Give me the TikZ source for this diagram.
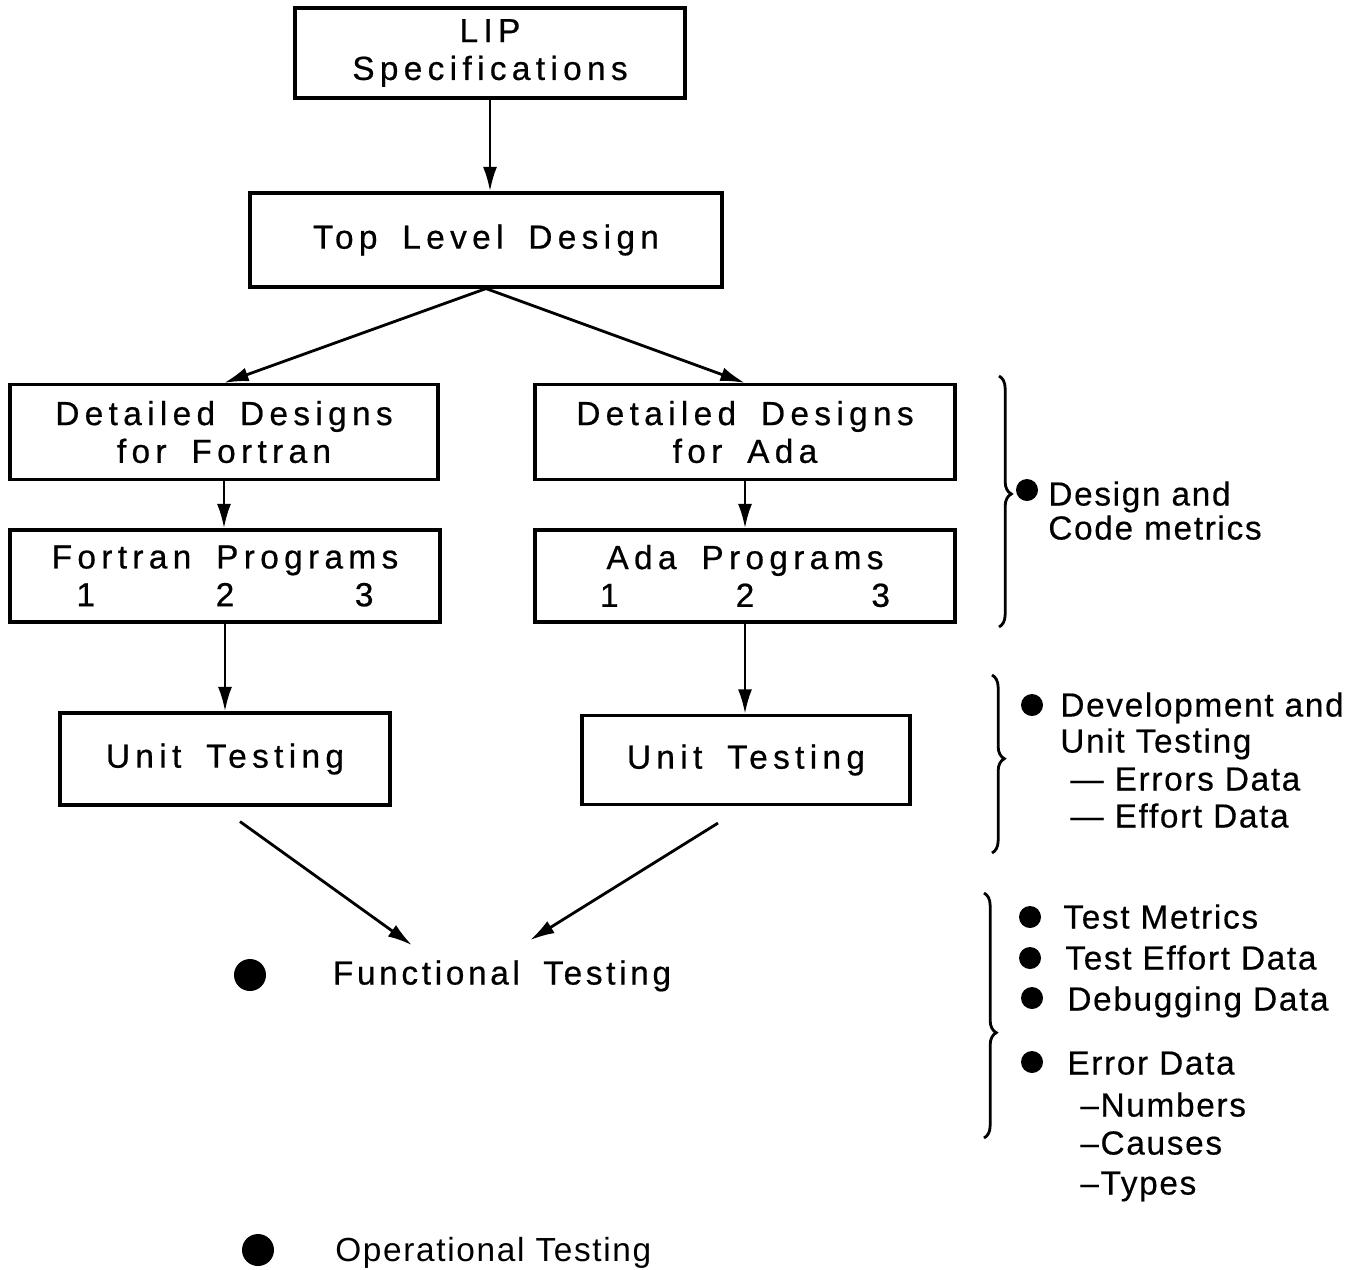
\documentclass[tikz,border=0pt]{standalone}
\usepackage{fontspec}
\setmainfont{Liberation Sans}
\newfontfamily\boxfont[LetterSpace=16,WordSpace=1.7,FakeBold=0.6]{Liberation Sans}
\newfontfamily\funcfont[LetterSpace=11,WordSpace=1.8,FakeBold=0.6]{Liberation Sans}
\newfontfamily\notefont[LetterSpace=5,FakeBold=0.4]{Liberation Sans}
\newfontfamily\operfont[LetterSpace=5]{Liberation Sans}
\usetikzlibrary{arrows.meta,positioning,calc,decorations.pathreplacing}

\begin{document}
\begin{tikzpicture}[
  x=0.02cm, y=-0.02cm,
  box/.style={draw=black, line width=1.8pt, align=center, inner sep=0pt, font=\boxfont\fontsize{19}{21.5}\selectfont},
  flow/.style={-{Latex[length=14pt,width=8pt]}, line width=1.6pt},
  dot/.style={circle, fill=black, inner sep=0pt, minimum size=0.44cm},
  bigdot/.style={circle, fill=black, inner sep=0pt, minimum size=0.64cm},
  stage/.style={inner sep=0pt, text height=0.46cm, text depth=0pt, font=\funcfont\fontsize{19}{23}\selectfont},
  note/.style={anchor=west, inner sep=0pt, text height=0.46cm, text depth=0pt, font=\notefont\fontsize{19}{23}\selectfont},
  sidebrace/.style={decorate, decoration={brace, amplitude=7pt, aspect=#1}, line width=1.6pt}
]
  \useasboundingbox (0,0) rectangle (1346,1269);
  \node[box, minimum width=7.8cm, minimum height=1.8cm] (spec) at (490,53) {LIP\\Specifications};
  \node[box, minimum width=9.44cm, minimum height=1.88cm] (top) at (486,240) {Top Level Design};
  \node[box, minimum width=8.56cm, minimum height=1.9cm] (ddf) at (224,432) {Detailed Designs\\for Fortran};
  \node[box, minimum width=8.4cm, minimum height=1.9cm] (dda) at (745,432) {Detailed Designs\\for Ada};
  \node[box, minimum width=8.6cm, minimum height=1.84cm] (fprog) at (225,576) {Fortran Programs\\\makebox[5.94cm]{1\hfill 2\hfill 3}};
  \node[box, minimum width=8.4cm, minimum height=1.84cm] (aprog) at (745,576) {Ada Programs\\\makebox[5.8cm]{1\hfill 2\hfill 3}};
  \node[box, minimum width=6.6cm, minimum height=1.84cm] (ufort) at (225,759) {Unit Testing};
  \node[box, minimum width=6.56cm, minimum height=1.78cm] (uada) at (746,760) {Unit Testing};
  \node[bigdot] (fdot) at (250,975) {};
  \node[stage] (func) at (502,973) {Functional Testing};
  \node[bigdot] (odot) at (258,1250) {};
  \node[note, font=\operfont\fontsize{19}{23}\selectfont] (oper) at (335,1250) {Operational Testing};
  \draw[flow] (spec.south) -- (spec.south |- top.north);
  \draw[flow] (top.south) -- (ddf.north);
  \draw[flow] (top.south) -- (dda.north);
  \draw[flow] (ddf.south) -- (ddf.south |- fprog.north);
  \draw[flow] (dda.south) -- (dda.south |- aprog.north);
  \draw[flow] (fprog.south) -- (fprog.south |- ufort.north);
  \draw[flow] (aprog.south) -- (aprog.south |- uada.north);
  \draw[flow] ([shift={(15,15)}]ufort.south) -- ([shift={(-90,-16)}]func.north);
  \draw[flow] ([shift={(-28,17)}]uada.south) -- ([shift={(28,-21)}]func.north);
  \coordinate (b1t) at (999,376);
  \coordinate (b1b) at (999,627);
  \coordinate (b2t) at (992,675);
  \coordinate (b2b) at (992,853);
  \coordinate (b3t) at (984,893);
  \coordinate (b3b) at (984,1138);
  \draw[sidebrace=0.47] (b1t) -- (b1b);
  \draw[sidebrace=0.47] (b2t) -- (b2b);
  \draw[sidebrace=0.57] (b3t) -- (b3b);
  \foreach \n/\x/\y in {d1/1027/490,d2/1032/705,d3/1030/917,d4/1030/958,d5/1032/998,d6/1032/1062} {
    \node[dot] (\n) at (\x,\y) {};
  }
  \foreach \n/\x/\y/\t in {
    n1/1048/494/Design and,n2/1048/528/Code metrics,
    n3/1060/705/Development and,n4/1060/741/Unit Testing,n5/1070/779/— Errors Data,n6/1070/816/— Effort Data,
    n7/1063/917/Test Metrics,n8/1065/958/Test Effort Data,n9/1067/999/Debugging Data,n10/1067/1063/Error Data,
    n11/1080/1105/–Numbers,n12/1080/1143/–Causes,n13/1080/1183/–Types
  } {
    \node[note] (\n) at (\x,\y) {\t};
  }
\end{tikzpicture}
\end{document}
